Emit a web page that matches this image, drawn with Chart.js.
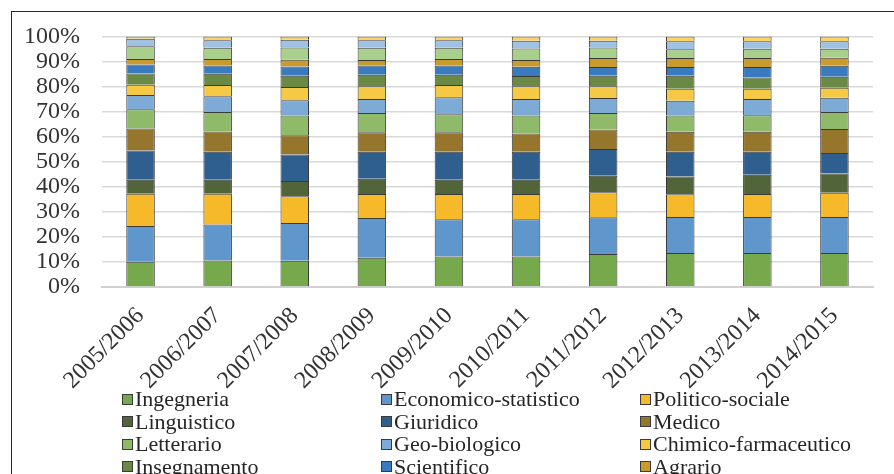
<!DOCTYPE html>
<html>
<head>
<meta charset="utf-8">
<script src="https://cdn.jsdelivr.net/npm/chart.js@4.4.1/dist/chart.umd.min.js"></script>
<style>
    html, body { margin: 0; padding: 0; width: 894px; height: 474px; overflow: hidden; background: #fff; }
    #frame { position: absolute; left: 11px; top: 11px; width: 1000px; height: 600px; border: 1px solid #2b2b2b; }
    #wrap { position: absolute; left: 0; top: 0; width: 894px; height: 400px; }
    #legend { position: absolute; left: 122px; top: 388px; display: grid; grid-template-columns: 259px 259px 259px; grid-auto-rows: 22.5px; font-family: 'Liberation Serif'; font-size: 22px; color: #262626; }
    .item { display: flex; align-items: center; white-space: nowrap; }
    .box { box-sizing: border-box; width: 11px; height: 11px; border: 1px solid #3a3a3a; margin-right: 2px; }
</style>
</head>
<body>
<div id="frame"></div>
<div id="wrap"><canvas id="gruppiChart"></canvas></div>
<div id="legend"></div>
<script>
const categories = ['2005/2006', '2006/2007', '2007/2008', '2008/2009', '2009/2010',
    '2010/2011', '2011/2012', '2012/2013', '2013/2014', '2014/2015'];

// quote percentuali per gruppo disciplinare
const ingegneria = [10.1, 10.6, 10.5, 11.7, 12.2, 12.2, 13.2, 13.6, 13.6, 13.6];
const economico = [14.2, 14.3, 15.0, 15.8, 14.8, 14.8, 14.6, 14.3, 14.3, 14.3];
const politico = [12.9, 12.3, 10.7, 9.6, 10.1, 10.1, 10.0, 9.1, 9.2, 9.7];
const linguistico = [5.6, 5.6, 6.1, 6.1, 5.7, 5.7, 6.6, 7.1, 7.7, 7.7];
const giuridico = [11.7, 11.2, 10.6, 10.8, 11.2, 11.2, 10.7, 9.9, 9.2, 8.2];
const medico = [8.7, 8.1, 7.7, 7.8, 7.8, 7.3, 7.7, 8.0, 8.0, 9.5];
const letterario = [7.7, 7.7, 7.8, 7.6, 7.1, 7.1, 6.6, 6.4, 6.5, 6.8];
const geobiologico = [5.7, 6.3, 6.1, 5.6, 6.8, 6.6, 6.0, 5.9, 6.5, 5.7];
const chimico = [4.1, 4.5, 5.3, 5.1, 4.9, 5.1, 4.7, 4.8, 4.1, 4.0];
const insegnamento = [4.5, 4.5, 4.5, 4.6, 4.1, 4.1, 4.2, 5.2, 4.5, 4.4];
const scientifico = [3.6, 3.3, 3.7, 3.7, 3.7, 3.7, 3.5, 3.5, 4.2, 4.4];
const agrario = [2.2, 2.6, 2.7, 2.2, 2.6, 2.7, 3.6, 3.6, 3.6, 3.2];
const psicologico = [5.1, 4.5, 4.9, 4.9, 4.5, 4.6, 4.2, 3.5, 3.7, 3.6];
const architettura = [3.0, 3.0, 3.1, 3.0, 3.0, 3.1, 2.7, 3.2, 3.0, 3.0];
const educazioneFisica = [0.9, 1.5, 1.3, 1.5, 1.5, 1.7, 1.7, 1.9, 1.9, 1.9];

const yTicks = [0, 10, 20, 30, 40, 50, 60, 70, 80, 90, 100];

const series = [
    ['Ingegneria', ingegneria, '#76a84c'],
    ['Economico-statistico', economico, '#5f96cb'],
    ['Politico-sociale', politico, '#f5b92a'],
    ['Linguistico', linguistico, '#51643a'],
    ['Giuridico', giuridico, '#2f5f8f'],
    ['Medico', medico, '#96762c'],
    ['Letterario', letterario, '#8fba6a'],
    ['Geo-biologico', geobiologico, '#7eaad6'],
    ['Chimico-farmaceutico', chimico, '#f6c945'],
    ['Insegnamento', insegnamento, '#6a8944'],
    ['Scientifico', scientifico, '#3a7bbf'],
    ['Agrario', agrario, '#c99b2c'],
    ['Psicologico', psicologico, '#a9cf8c'],
    ['Architettura', architettura, '#9fc2e4'],
    ['Educazione fisica', educazioneFisica, '#f8d26a']
];

const datasets = series.map(s => ({
    label: s[0],
    data: s[1],
    backgroundColor: s[2],
    borderColor: '#3a3a3a',
    borderWidth: 1,
    categoryPercentage: 1,
    barPercentage: 0.37
}));

const htmlLegend = {
    id: 'htmlLegend',
    afterUpdate(chart) {
        const el = document.getElementById('legend');
        el.innerHTML = '';
        chart.data.datasets.forEach(ds => {
            const item = document.createElement('div');
            item.className = 'item';
            const box = document.createElement('span');
            box.className = 'box';
            box.style.background = ds.backgroundColor;
            item.appendChild(box);
            item.appendChild(document.createTextNode(ds.label));
            el.appendChild(item);
        });
    }
};

const ctx = document.getElementById('gruppiChart').getContext('2d');
const gruppiChart = new Chart(ctx, {
    type: 'bar',
    data: {
        labels: categories,
        datasets: datasets
    },
    options: {
        responsive: true,
        maintainAspectRatio: false,
        animation: false,
        layout: { padding: { top: 36, right: 21, bottom: 0, left: 0 } },
        scales: {
            x: {
                stacked: true,
                afterFit: function (scale) { scale.height = 113; },
                grid: { display: false },
                border: { display: true, color: '#d0d0d0', width: 2 },
                ticks: {
                    minRotation: 45,
                    maxRotation: 45,
                    autoSkip: false,
                    padding: 7,
                    color: '#333',
                    font: { family: 'Liberation Serif', size: 24 }
                }
            },
            y: {
                stacked: true,
                min: 0,
                max: 100,
                afterFit: function (scale) { scale.width = 102; },
                afterBuildTicks: function (scale) { scale.ticks = yTicks.map(v => ({ value: v })); },
                grid: { color: '#d9d9d9', lineWidth: 1.5, drawTicks: false },
                border: { display: false },
                ticks: {
                    autoSkip: false,
                    padding: 22,
                    color: '#333',
                    font: { family: 'Liberation Serif', size: 24 },
                    callback: function (value) { return value + '%'; }
                }
            }
        },
        plugins: {
            legend: { display: false },
            tooltip: { enabled: false }
        }
    },
    plugins: [htmlLegend]
});
</script>
</body>
</html>
